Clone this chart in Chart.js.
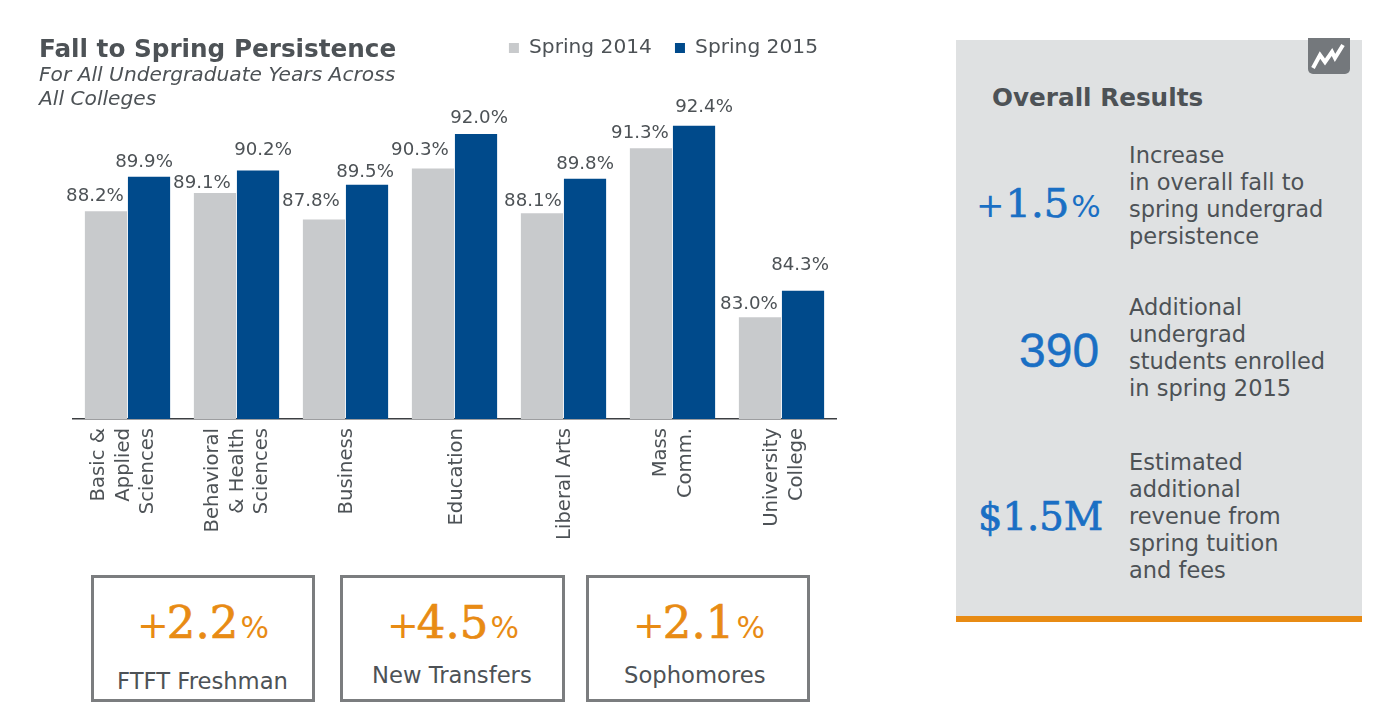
<!DOCTYPE html>
<html>
<head>
<meta charset="utf-8">
<title>Fall to Spring Persistence</title>
<script src="https://cdn.jsdelivr.net/npm/chart.js@4"></script>
<style>
    html, body { margin: 0; background: #fff; }
    body { position: relative; width: 1400px; height: 722px; overflow: hidden; font-family: "DejaVu Sans", sans-serif; color: #4d5256; }
    #wrap { position: absolute; left: 0; top: 0; width: 870px; height: 560px; }
    .t { position: absolute; white-space: nowrap; }
    .title { left: 39px; top: 34px; font-size: 24.7px; line-height: 30px; font-weight: bold; }
    .sub { left: 39px; top: 62px; font-size: 20.2px; line-height: 24px; font-style: italic; }
    .box { position: absolute; top: 575px; height: 121px; border: 3px solid #7b7d7f; }
    .big { font-family: "DejaVu Serif", serif; -webkit-text-stroke: .7px currentColor; }
    .big i { font-style: normal; font-family: "DejaVu Sans", sans-serif; -webkit-text-stroke: 0; margin-left: 2px; }
    .big i.plus { margin: 0 -2px 0 0; }
    .orange { color: #e88b14; font-size: 45px; line-height: 50px; top: 598px; }
    .orange i { font-size: 30px; }
    .orange i.plus { font-size: 38px; }
    .lab { font-size: 22.7px; line-height: 26px; }
    #panel { position: absolute; left: 956px; top: 40px; width: 406px; height: 576px; background: #dfe1e2; border-bottom: 6px solid #e88b14; }
    #icon { position: absolute; left: 1308px; top: 38px; width: 42px; height: 36px; background: #74787c; border-radius: 0 0 5px 5px; }
    .head { left: 992px; top: 83px; font-size: 24.7px; line-height: 30px; font-weight: bold; }
    .desc { left: 1129px; font-size: 22.5px; line-height: 27px; }
    .blue { color: #1a6fc4; font-size: 40px; line-height: 44px; }
    .blue i { font-size: 31px; }
    .blue i.plus { font-size: 34px; margin-right: 1px; }
</style>
</head>
<body>
<div id="wrap"><canvas id="chart"></canvas></div>

<div class="t title">Fall to Spring Persistence</div>
<div class="t sub">For All Undergraduate Years Across<br>All Colleges</div>

<div class="box" style="left:91px;width:218px"></div>
<div class="box" style="left:340px;width:219px"></div>
<div class="box" style="left:586px;width:218px"></div>
<div class="t big orange" style="left:137px"><i class="plus">+</i>2.2<i>%</i></div>
<div class="t big orange" style="left:387px"><i class="plus">+</i>4.5<i>%</i></div>
<div class="t big orange" style="left:633px"><i class="plus">+</i>2.1<i>%</i></div>
<div class="t lab" style="left:117px;top:668px">FTFT Freshman</div>
<div class="t lab" style="left:372px;top:662px">New Transfers</div>
<div class="t lab" style="left:624px;top:662px">Sophomores</div>

<div id="panel"></div>
<div id="icon">
    <svg width="42" height="36"><polyline points="5,30 12,17 17,24 24,14 27,20 35,7" fill="none" stroke="#fff" stroke-width="4"/></svg>
</div>
<div class="t head">Overall Results</div>
<div class="t big blue" style="left:976px;top:181px"><i class="plus">+</i>1.5<i>%</i></div>
<div class="t desc" style="top:142px">Increase<br>in overall fall to<br>spring undergrad<br>persistence</div>
<div class="t blue" style="left:1019px;top:327px;font:48px/48px 'Liberation Sans',sans-serif;-webkit-text-stroke:.4px currentColor">390</div>
<div class="t desc" style="top:294px">Additional<br>undergrad<br>students enrolled<br>in spring 2015</div>
<div class="t big blue" style="left:978px;top:495px;font-size:38.5px">$1.5M</div>
<div class="t desc" style="top:449px">Estimated<br>additional<br>revenue from<br>spring tuition<br>and fees</div>

<script>
// Data
const colleges = [
    ['Basic &', 'Applied', 'Sciences'],
    ['Behavioral', '& Health', 'Sciences'],
    'Business',
    'Education',
    'Liberal Arts',
    ['Mass', 'Comm.'],
    ['University', 'College']
];
const spring2014 = [88.2, 89.1, 87.8, 90.3, 88.1, 91.3, 83.0];
const spring2015 = [89.9, 90.2, 89.5, 92.0, 89.8, 92.4, 84.3];

// The value labels are hand placed in the original, so nudge them from the bar top
const nudge2014 = [[-11, 10], [-13, 5], [-13, 13], [-13, 14], [-9, 7], [-11, 10], [-11, 8]];
const nudge2015 = [[-5, 10], [5, 16], [-2, 8], [3, 11], [0, 10], [10, 14], [-3, 21]];
const nudges = [nudge2014, nudge2015];
const tickNudge = [-4, 1, 1, 2, 1, 1, 3];

const TEXT = '#4d5256';
const TICK_SIZE = 19.6;
const TICK_LINE = 1.25;

const valueLabels = {
    id: 'valueLabels',
    beforeDraw: chart => {
        // legend sits a little left of the axis end
        chart.legend.right = 841;
        // rotated multi-line ticks start at the tick position, centre them on it
        chart.scales.x.getLabelItems().forEach((item, i) => {
            if (item.centred) return;
            const lines = Array.isArray(item.label) ? item.label.length : 1;
            item.textOffset += tickNudge[i] - (lines - 1) * TICK_SIZE * TICK_LINE / 2;
            item.centred = true;
        });
    },
    afterDatasetsDraw: chart => {
        const ctx = chart.ctx;
        ctx.save();
        ctx.font = '18.2px "DejaVu Sans"';
        ctx.fillStyle = TEXT;
        ctx.textAlign = 'center';
        ctx.textBaseline = 'alphabetic';
        chart.data.datasets.forEach((ds, i) => {
            chart.getDatasetMeta(i).data.forEach((bar, j) => {
                const [dx, dy] = nudges[i][j];
                ctx.fillText(ds.data[j].toFixed(1) + '%', bar.x + dx, bar.y - dy);
            });
        });
        ctx.restore();
    }
};

new Chart(document.getElementById('chart').getContext('2d'), {
    type: 'bar',
    data: {
        labels: colleges,
        datasets: [
            { label: 'Spring 2014', data: spring2014, backgroundColor: '#c8cacc' },
            { label: 'Spring 2015', data: spring2015, backgroundColor: '#004a8b' }
        ]
    },
    options: {
        responsive: true,
        maintainAspectRatio: false,
        animation: false,
        categoryPercentage: .79,
        barPercentage: .98,
        layout: { padding: { left: 73, right: 34, top: 15 } },
        scales: {
            y: { display: false, min: 78, max: 95.23 },
            x: {
                afterFit: s => { s.height = 141; },
                grid: { display: false },
                border: { color: '#3c3f42', width: 1.5 },
                ticks: {
                    autoSkip: false,
                    minRotation: 90,
                    maxRotation: 90,
                    padding: 1,
                    color: TEXT,
                    font: { family: '"DejaVu Sans"', size: TICK_SIZE, lineHeight: TICK_LINE }
                }
            }
        },
        plugins: {
            tooltip: { enabled: false },
            legend: {
                position: 'top',
                align: 'end',
                labels: {
                    boxWidth: 10,
                    boxHeight: 10,
                    padding: 23,
                    color: TEXT,
                    font: { family: '"DejaVu Sans"', size: 20.2 }
                }
            }
        }
    },
    plugins: [valueLabels]
});
</script>
</body>
</html>
